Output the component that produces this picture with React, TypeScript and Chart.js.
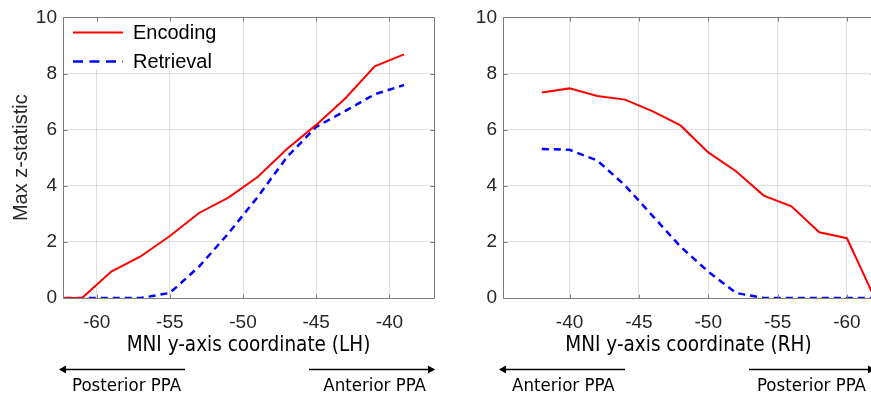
import React, { useEffect, useRef } from 'react';
import { Chart, registerables } from 'chart.js';

Chart.register(...registerables);

// ---------- data ----------
const xLH = [-63, -61, -59, -57, -55, -53, -51, -49, -47, -45, -43, -41, -39];
const encodingLH = [0, 0, 0.94, 1.48, 2.21, 3.03, 3.58, 4.31, 5.31, 6.17, 7.12, 8.26, 8.68];
const retrievalLH = [0, 0, 0, 0, 0.18, 1.12, 2.3, 3.6, 5.02, 6.1, 6.67, 7.26, 7.59];

const xRH = [-38, -40, -42, -44, -46, -48, -50, -52, -54, -56, -58, -60, -62];
const encodingRH = [7.32, 7.47, 7.2, 7.07, 6.65, 6.15, 5.19, 4.52, 3.65, 3.27, 2.34, 2.13, 0];
const retrievalRH = [5.31, 5.28, 4.9, 4.01, 2.92, 1.83, 0.94, 0.18, 0, 0, 0, 0, 0];

const xTicksLH = [-60, -55, -50, -45, -40];
const xTicksRH = [-40, -45, -50, -55, -60];
const yTicks = [0, 2, 4, 6, 8, 10];

const seriesLabels = ['Encoding', 'Retrieval'];
const xTitleLH = 'MNI y-axis coordinate (LH)';
const xTitleRH = 'MNI y-axis coordinate (RH)';
const yTitle = 'Max z-statistic';
const arrowLabelsLH = ['Posterior PPA', 'Anterior PPA'];
const arrowLabelsRH = ['Anterior PPA', 'Posterior PPA'];

// ---------- styles ----------
const RED = '#ff0000';
const BLUE = '#0000ff';
const GRID = 'rgba(38,38,38,0.15)';
const BOX = '#7d7d7d';
const TICK_TEXT = '#262626';
const SANS = "'Liberation Sans', Arial, Helvetica, sans-serif";
const NARROW = "'Liberation Sans Narrow', 'DejaVu Sans Condensed', 'Liberation Sans', sans-serif";

interface PanelProps {
  xs: number[];
  enc: number[];
  ret: number[];
  xTicks: number[];
  xMin: number;
  xMax: number;
  reverse: boolean;
  xTitle: string;
  yTitleText: string;
  arrowLabels: string[];
  showLegend: boolean;
}

function makeDecor(p: PanelProps) {
  return {
    id: 'decor',
    beforeDatasetsDraw(chart: any) {
      if (!p.showLegend) return;
      const { ctx, chartArea: a } = chart;
      ctx.save();
      ctx.fillStyle = '#ffffff';
      ctx.fillRect(a.left + 1, a.top + 1, 164, 51);
      ctx.restore();
    },
    afterDraw(chart: any) {
      const { ctx, chartArea: a, scales } = chart;
      ctx.save();
      // axes box
      const L = Math.round(a.left) + 0.5;
      const T = Math.round(a.top) + 0.5;
      const R = Math.round(a.right) + 0.5;
      const B = Math.round(a.bottom) + 0.5;
      ctx.strokeStyle = BOX;
      ctx.lineWidth = 1;
      ctx.beginPath();
      ctx.rect(L, T, R - L, B - T);
      // inward tick marks
      const tl = 4;
      scales.x.ticks.forEach((t: any) => {
        const px = Math.round(scales.x.getPixelForValue(t.value)) + 0.5;
        ctx.moveTo(px, B);
        ctx.lineTo(px, B - tl);
        ctx.moveTo(px, T);
        ctx.lineTo(px, T + tl);
      });
      scales.y.ticks.forEach((t: any) => {
        const py = Math.round(scales.y.getPixelForValue(t.value)) + 0.5;
        ctx.moveTo(L, py);
        ctx.lineTo(L + tl, py);
        ctx.moveTo(R, py);
        ctx.lineTo(R - tl, py);
      });
      ctx.stroke();

      // legend
      if (p.showLegend) {
        const ds = chart.data.datasets;
        const rows = [a.top + 15, a.top + 44];
        ds.forEach((d: any, i: number) => {
          const y = rows[i];
          ctx.beginPath();
          ctx.strokeStyle = d.borderColor;
          ctx.lineWidth = d.borderWidth;
          ctx.setLineDash(i === 1 ? [10, 6.5] : []);
          ctx.moveTo(a.left + 10, y);
          ctx.lineTo(a.left + 60, y);
          ctx.stroke();
          ctx.setLineDash([]);
          ctx.fillStyle = '#000000';
          ctx.font = `20px ${SANS}`;
          ctx.textAlign = 'left';
          ctx.textBaseline = 'middle';
          ctx.fillText(d.label, a.left + 70, y + 1);
        });
      }

      // direction arrows
      const ay = a.bottom + 71.5;
      const head = (tipX: number, dir: number) => {
        ctx.beginPath();
        ctx.moveTo(tipX, ay);
        ctx.lineTo(tipX - dir * 7, ay - 4);
        ctx.lineTo(tipX - dir * 7, ay + 4);
        ctx.closePath();
        ctx.fill();
      };
      ctx.strokeStyle = '#000000';
      ctx.fillStyle = '#000000';
      ctx.lineWidth = 1.5;
      ctx.beginPath();
      ctx.moveTo(a.left - 3, ay);
      ctx.lineTo(a.left + 122, ay);
      ctx.moveTo(a.right - 125, ay);
      ctx.lineTo(a.right, ay);
      ctx.stroke();
      head(a.left - 4, -1);
      head(a.right + 1, 1);

      ctx.font = `18.5px ${NARROW}`;
      ctx.textBaseline = 'alphabetic';
      ctx.textAlign = 'left';
      ctx.fillText(p.arrowLabels[0], a.left + 9, a.bottom + 93);
      ctx.textAlign = 'right';
      ctx.fillText(p.arrowLabels[1], a.right - 8, a.bottom + 93);
      ctx.restore();
    },
  };
}

function Panel(p: PanelProps & { left: number }) {
  const ref = useRef<HTMLCanvasElement | null>(null);
  useEffect(() => {
    if (!ref.current) return;
    const chart = new Chart(ref.current, {
      type: 'line',
      data: {
        datasets: [
          {
            label: seriesLabels[0],
            data: p.xs.map((x, i) => ({ x, y: p.enc[i] })),
            borderColor: RED,
            backgroundColor: RED,
            borderWidth: 2,
            pointRadius: 0,
            tension: 0,
          },
          {
            label: seriesLabels[1],
            data: p.xs.map((x, i) => ({ x, y: p.ret[i] })),
            borderColor: BLUE,
            backgroundColor: BLUE,
            borderWidth: 2.5,
            borderDash: [7, 5],
            pointRadius: 0,
            tension: 0,
          },
        ],
      },
      options: {
        animation: false,
        responsive: false,
        events: [],
        layout: { padding: { top: 16, right: 6, left: 0, bottom: 0 } },
        plugins: { legend: { display: false }, tooltip: { enabled: false } },
        scales: {
          x: {
            type: 'linear',
            min: p.xMin,
            max: p.xMax,
            reverse: p.reverse,
            afterBuildTicks: (s: any) => {
              s.ticks = p.xTicks.map((v) => ({ value: v }));
            },
            afterFit: (s: any) => {
              s.height = 99;
            },
            grid: { color: GRID, drawTicks: false },
            border: { display: false },
            ticks: {
              font: { family: SANS, size: 19 },
              color: TICK_TEXT,
              padding: 13,
              maxRotation: 0,
              autoSkip: false,
            },
            title: {
              display: true,
              text: p.xTitle,
              font: { family: NARROW, size: 20.5 },
              color: '#000000',
              padding: { top: 0, bottom: 39 },
            },
          },
          y: {
            type: 'linear',
            min: 0,
            max: 10,
            afterBuildTicks: (s: any) => {
              s.ticks = yTicks.map((v) => ({ value: v }));
            },
            afterFit: (s: any) => {
              s.width = 63;
            },
            grid: { color: GRID, drawTicks: false },
            border: { display: false },
            ticks: {
              font: { family: SANS, size: 19 },
              color: TICK_TEXT,
              padding: 6,
            },
            title: {
              display: p.yTitleText.length > 0,
              text: p.yTitleText,
              font: { family: SANS, size: 20 },
              color: TICK_TEXT,
              padding: { top: 9, bottom: 0 },
            },
          },
        },
      },
      plugins: [makeDecor(p)],
    } as any);
    return () => chart.destroy();
  }, []);
  return (
    <canvas
      ref={ref}
      width={440}
      height={397}
      style={{ position: 'absolute', left: p.left, top: 0, width: 440, height: 397 }}
    />
  );
}

export default function App() {
  return (
    <div
      style={{
        position: 'fixed',
        left: 0,
        top: 0,
        width: 871,
        height: 397,
        overflow: 'hidden',
        background: '#ffffff',
      }}
    >
      <Panel
        left={0}
        xs={xLH}
        enc={encodingLH}
        ret={retrievalLH}
        xTicks={xTicksLH}
        xMin={-62.3}
        xMax={-36.95}
        reverse={false}
        xTitle={xTitleLH}
        yTitleText={yTitle}
        arrowLabels={arrowLabelsLH}
        showLegend={true}
      />
      <Panel
        left={440}
        xs={xRH}
        enc={encodingRH}
        ret={retrievalRH}
        xTicks={xTicksRH}
        xMin={-61.95}
        xMax={-35.2}
        reverse={true}
        xTitle={xTitleRH}
        yTitleText={''}
        arrowLabels={arrowLabelsRH}
        showLegend={false}
      />
    </div>
  );
}
